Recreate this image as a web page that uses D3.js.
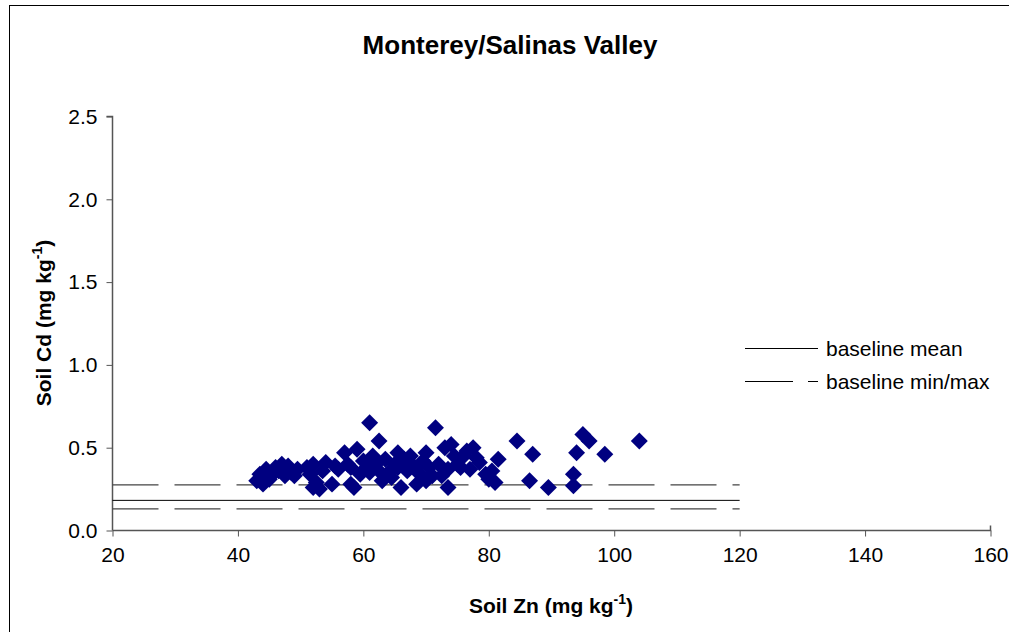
<!DOCTYPE html>
<html>
<head>
<meta charset="utf-8">
<script src="https://cdn.jsdelivr.net/npm/d3@7"></script>
<style>
  html, body { margin: 0; padding: 0; background: #fff; }
  svg { display: block; font-family: "Liberation Sans", Arial, sans-serif; }
</style>
</head>
<body>
<svg id="chart" width="1009" height="632"></svg>
<script>
// Soil Zn (x) vs Soil Cd (y), mg/kg
const soilZn = [
  43, 43.5, 44, 44.5, 45, 45.5, 46, 46.5, 47, 47.5, 48, 48.5, 49, 49.5, 51, 51.5, 52, 52.5, 52, 53,
  53.5, 54, 55, 55.5, 56, 57, 57.5, 58, 58, 58.5, 59, 59.5, 60, 60.5, 61, 61, 61.5, 62, 62.5, 62.5,
  63, 63.5, 64, 64.5, 65, 65.5, 65.5,
  66, 66.5, 67, 67.5, 68, 68.5, 69, 69.5, 70, 70, 70.5, 71, 71.5, 72, 72.5, 73, 73.5, 73.5, 74, 74.5,
  75, 75.5, 76, 76.5, 77, 77.5, 78, 78.5,
  79.5, 80, 80.5, 81, 81.5, 84.5, 86.5, 87, 89.5, 93.5, 93.5, 94, 95, 96, 98.5, 104
];
const soilCd = [
  0.30, 0.34, 0.28, 0.37, 0.31, 0.34, 0.38, 0.36, 0.40, 0.33, 0.39, 0.35, 0.33, 0.37, 0.38, 0.34, 0.26, 0.29, 0.40, 0.25,
  0.36, 0.41, 0.28, 0.39, 0.37, 0.47, 0.40, 0.28, 0.38, 0.26, 0.49, 0.34, 0.42, 0.38, 0.65, 0.35, 0.45, 0.40, 0.54, 0.36,
  0.30, 0.43, 0.35, 0.32, 0.40, 0.47, 0.38,
  0.26, 0.43, 0.36, 0.45, 0.39, 0.28, 0.34, 0.42, 0.47, 0.30, 0.38, 0.33, 0.62, 0.40, 0.33, 0.50, 0.26, 0.37, 0.52, 0.45,
  0.40, 0.38, 0.45, 0.48, 0.37, 0.50, 0.44, 0.41,
  0.34, 0.31, 0.36, 0.29, 0.43, 0.54, 0.30, 0.46, 0.26, 0.27, 0.34, 0.47, 0.58, 0.54, 0.46, 0.54
];

// Reference lines (baseline statistics) spanning Zn 20..120
const baselineZn = [20, 120];
const baselineMean = 0.182;
const baselineMin = 0.13;
const baselineMax = 0.275;

const xTicks = [20, 40, 60, 80, 100, 120, 140, 160];
const yTicks = [0, 0.5, 1.0, 1.5, 2.0, 2.5];

const svg = d3.select("#chart");

// outer frame
svg.append("rect")
  .attr("x", 9.5).attr("y", 5.5)
  .attr("width", 1010).attr("height", 640)
  .attr("fill", "none").attr("stroke", "#000").attr("stroke-width", 1);

const x = d3.scaleLinear().domain([20, 160]).range([112.5, 990.5]);
const y = d3.scaleLinear().domain([0, 2.5]).range([530.5, 116.5]);

// title
svg.append("text")
  .attr("x", 510).attr("y", 54)
  .attr("text-anchor", "middle")
  .attr("font-size", 26).attr("font-weight", "bold")
  .text("Monterey/Salinas Valley");

// axes
const axisColor = "#555";
const xAxis = svg.append("g")
  .attr("transform", "translate(0,530.5)")
  .call(d3.axisBottom(x).tickValues(xTicks).tickSize(6).tickPadding(11).tickFormat(d3.format("d")));
const yAxis = svg.append("g")
  .attr("transform", "translate(112.5,0)")
  .call(d3.axisLeft(y).tickValues(yTicks).tickSize(6).tickPadding(9).tickFormat(d3.format(".1f")));

[xAxis, yAxis].forEach(g => {
  g.select(".domain").attr("stroke", axisColor).attr("stroke-width", 1.5);
  g.selectAll(".tick line").attr("stroke", axisColor).attr("stroke-width", 1);
  g.selectAll(".tick text").attr("fill", "#000").attr("font-size", 21)
    .attr("font-family", "'Liberation Sans', Arial, sans-serif");
});
// outer ticks only: remove path end caps
xAxis.select(".domain").attr("d", `M112.5,0H990.5V-5`);
yAxis.select(".domain").attr("d", `M0,530.5V116.5H-6`);

// baseline lines
const line = d3.line().x(d => x(d[0])).y(d => y(d[1]));
svg.append("path")
  .attr("d", line(baselineZn.map(v => [v, baselineMax])))
  .attr("stroke", "#444").attr("stroke-width", 1.2).attr("stroke-dasharray", "46,16").attr("fill", "none");
svg.append("path")
  .attr("d", line(baselineZn.map(v => [v, baselineMin])))
  .attr("stroke", "#444").attr("stroke-width", 1.2).attr("stroke-dasharray", "46,16").attr("fill", "none");
svg.append("path")
  .attr("d", line(baselineZn.map(v => [v, baselineMean])))
  .attr("stroke", "#000").attr("stroke-width", 1).attr("fill", "none");

// points: navy diamonds
const diamond = d3.symbol().type(d3.symbolSquare).size(144);
svg.append("g").selectAll("path")
  .data(soilZn.map((v, i) => [v, soilCd[i]]))
  .join("path")
  .attr("d", diamond)
  .attr("transform", d => `translate(${x(d[0])},${y(d[1])}) rotate(45)`)
  .attr("fill", "#000080");

// legend
const legend = svg.append("g");
legend.append("line").attr("x1", 745).attr("x2", 818).attr("y1", 348.5).attr("y2", 348.5)
  .attr("stroke", "#000").attr("stroke-width", 1);
legend.append("text").attr("x", 826).attr("y", 356).attr("font-size", 21).text("baseline mean");
legend.append("line").attr("x1", 745).attr("x2", 818).attr("y1", 381.5).attr("y2", 381.5)
  .attr("stroke", "#000").attr("stroke-width", 1).attr("stroke-dasharray", "48,15");
legend.append("text").attr("x", 826).attr("y", 389).attr("font-size", 21).text("baseline min/max");

// axis titles with superscripts
const xt = svg.append("text")
  .attr("x", 551).attr("y", 613)
  .attr("text-anchor", "middle")
  .attr("font-size", 21).attr("font-weight", "bold");
xt.append("tspan").text("Soil Zn (mg kg");
xt.append("tspan").attr("dy", -9).attr("font-size", 14).text("-1");
xt.append("tspan").attr("dy", 9).text(")");

const yt = svg.append("text")
  .attr("transform", "translate(51,323) rotate(-90)")
  .attr("text-anchor", "middle")
  .attr("font-size", 21).attr("font-weight", "bold");
yt.append("tspan").text("Soil Cd (mg kg");
yt.append("tspan").attr("dy", -9).attr("font-size", 14).text("-1");
yt.append("tspan").attr("dy", 9).text(")");
</script>
</body>
</html>
